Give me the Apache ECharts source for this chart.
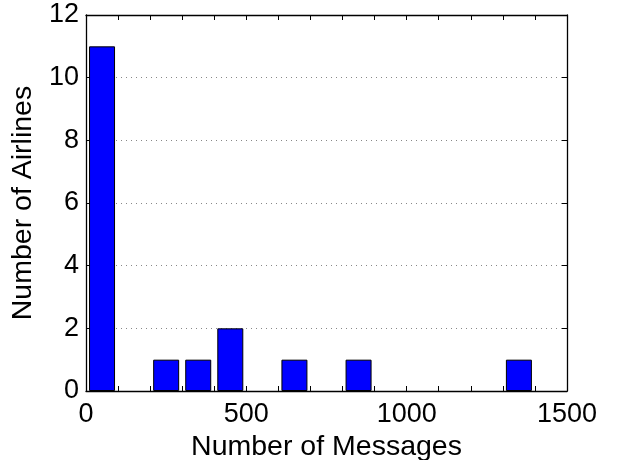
<!DOCTYPE html>
<html><head><meta charset="utf-8">
<script src="https://cdn.jsdelivr.net/npm/echarts@6/dist/echarts.min.js"></script>
<style>html,body{margin:0;padding:0;background:#fff}#c{width:621px;height:460px}</style>
</head><body><div id="c"></div>
<script>
const binCenters = [50, 150, 250, 350, 450, 550, 650, 750, 850, 950, 1050, 1150, 1250, 1350];
const counts = [11, 0, 1, 1, 2, 0, 1, 0, 1, 0, 0, 0, 0, 1];
const xLabels = [0, 500, 1000, 1500];
const yTicks = [0, 2, 4, 6, 8, 10, 12];
const xName = 'Number of Messages';
const yName = 'Number of Airlines';

const font = 'Liberation Sans, Arial, Helvetica, sans-serif';
const chart = echarts.init(document.getElementById('c'));
const tickStyle = {show: true, inside: true, length: 5, lineStyle: {color: '#000', width: 1}};
const lineStyle = {show: true, onZero: false, lineStyle: {color: '#000', width: 1.3}};
chart.setOption({
  animation: false,
  grid: {left: 86, right: 54, top: 15, bottom: 69, containLabel: false, outerBoundsMode: 'none'},
  xAxis: [{
    type: 'value', min: 0, max: 1500, interval: 100, position: 'bottom',
    axisLine: lineStyle, axisTick: tickStyle, splitLine: {show: false},
    axisLabel: {color: '#000', fontSize: 27, fontFamily: font, margin: 10,
      formatter: v => xLabels.indexOf(v) >= 0 ? String(v) : ''},
    name: xName, nameLocation: 'middle', nameGap: 37,
    nameTextStyle: {color: '#000', fontSize: 28.5, fontFamily: font}
  }, {
    type: 'value', min: 0, max: 1500, interval: 100, position: 'top',
    axisLine: lineStyle, axisTick: tickStyle, splitLine: {show: false}, axisLabel: {show: false}
  }],
  yAxis: [{
    type: 'value', min: 0, max: 12, interval: 2, position: 'left',
    axisLine: lineStyle, axisTick: tickStyle,
    splitLine: {show: true, lineStyle: {color: '#888', type: [1, 4], width: 1}},
    axisLabel: {color: '#000', fontSize: 27, fontFamily: font, margin: 7,
      formatter: v => yTicks.indexOf(v) >= 0 ? String(v) : ''},
    name: yName, nameLocation: 'middle', nameGap: 47,
    nameTextStyle: {color: '#000', fontSize: 28.5, fontFamily: font}
  }, {
    type: 'value', min: 0, max: 12, interval: 2, position: 'right',
    axisLine: lineStyle, axisTick: tickStyle, splitLine: {show: false}, axisLabel: {show: false}
  }],
  series: [{
    type: 'bar', xAxisIndex: 0, yAxisIndex: 0,
    data: binCenters.map((c, i) => [c, counts[i]]).filter(d => d[1] > 0),
    barWidth: 26,
    itemStyle: {color: '#0000ff', borderColor: '#000', borderWidth: 1}
  }]
});
</script></body></html>
